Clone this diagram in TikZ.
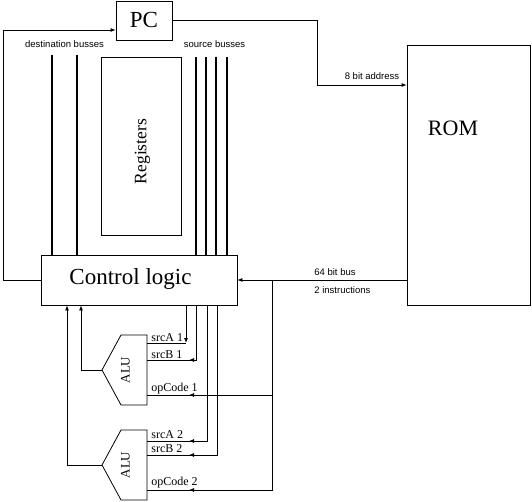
\documentclass[tikz,border=0pt]{standalone}
\usepackage{fontspec}
\setmainfont{Liberation Serif}
\newfontfamily\lsans{Liberation Sans}
\usetikzlibrary{arrows.meta,decorations.markings}
\begin{document}
\begin{tikzpicture}[x=1pt,y=-1pt,
  line width=0.8pt,
  box/.style={draw, rectangle, inner sep=0pt},
  bus/.style={line width=2.6pt},
  arr/.style={-{Latex[length=5pt,width=4pt]}},
  midarr/.style={postaction={decorate}, decoration={markings,
      mark=at position -42pt with {\arrow{Latex[length=5pt,width=4pt]}}}},
  small/.style={font=\lsans\fontsize{9.5}{11}\selectfont, inner sep=0pt},
  sig/.style={font=\fontsize{12}{14}\selectfont, anchor=base west, inner sep=0pt},
  big/.style={font=\fontsize{23}{25}\selectfont, inner sep=0pt},
]
\useasboundingbox (0,0) rectangle (532,502);

% main blocks
\node[box, minimum width=56pt, minimum height=39pt, big] (pc) at (144,20.5) {PC};
\node[box, minimum width=123pt, minimum height=260pt] (rom) at (468.5,175) {};
\node[big, font=\fontsize{22}{24}\selectfont] (romtxt) at (453,128) {ROM};
\node[box, minimum width=196pt, minimum height=50pt] (cl) at (139,280) {};
\node[big] (cltxt) at (130.5,279) {Control logic};
\node[box, minimum width=80pt, minimum height=178pt] (reg) at (141,146) {};
\node[rotate=90, font=\fontsize{17.5}{20}\selectfont, inner sep=0pt] (regtxt) at (142.5,151.5) {Registers};

% ALUs
\coordinate (alu1tip) at (102,370);
\coordinate (alu2tip) at (102,465);
\draw (121,335) -- (147,335) -- (147,405) -- (121,405) -- (alu1tip) -- cycle;
\draw (121,430) -- (147,430) -- (147,500) -- (121,500) -- (alu2tip) -- cycle;
\node[rotate=90, font=\fontsize{13}{15}\selectfont, inner sep=0pt] (alu1txt) at (125.5,370) {ALU};
\node[rotate=90, font=\fontsize{13}{15}\selectfont, inner sep=0pt] (alu2txt) at (125.5,465) {ALU};

% busses
\foreach \x in {52,77} \draw[bus] (\x,55) -- (\x,0 |- cl.north);
\foreach \x in {196,206,216,227} \draw[bus] (\x,57) -- (\x,0 |- cl.north);
\node[small, anchor=base] (dlab) at (64.5,48) {destination busses};
\node[small, anchor=base] (slab) at (214.5,48) {source busses};

% PC -> ROM
\draw[arr] (pc.east) -| (317,85) -- (rom.west |- 317,85);
\node[small, anchor=base] (addr) at (372,80) {8 bit address};

% Control logic -> PC
\draw[arr] (cl.west) -- (3,280) -- (3,30) -- (pc.west |- 3,30);

% ROM -> Control logic
\draw[arr] (rom.west |- cl.east) -- (cl.east);
\node[small, anchor=base west] (bus64) at (314,276) {64 bit bus};
\node[small, anchor=base west] (instr) at (314,294) {2 instructions};

% opcode distribution
\coordinate (j0) at (272,280);
\coordinate (j1) at (272,395);
\coordinate (j2) at (272,490);
\draw (j0) -- (j1);
\draw[midarr] (j1) -- (j2) -- (147,490);
\draw[midarr] (j1) -- (147,395);

% control logic -> ALU operands
\coordinate (sa1) at (186,343);
\draw[arr] (186,0 |- cl.south) -- (sa1);
\draw (sa1) -- (147,343);
\draw[midarr] (196,0 |- cl.south) |- (147,360);
\draw[midarr] (207,0 |- cl.south) |- (147,441);
\draw[midarr] (217,0 |- cl.south) |- (147,455);

% ALU outputs -> control logic
\draw[arr] (alu1tip) -- (81,370) -- (81,0 |- cl.south);
\draw[arr] (alu2tip) -- (67,465) -- (67,0 |- cl.south);

% signal labels
\node[sig] (la1) at (151,341) {srcA 1};
\node[sig] (lb1) at (151,358) {srcB 1};
\node[sig] (lo1) at (151,391) {opCode 1};
\node[sig] (la2) at (151,438) {srcA 2};
\node[sig] (lb2) at (151,452) {srcB 2};
\node[sig] (lo2) at (151,485) {opCode 2};
\end{tikzpicture}
\end{document}
